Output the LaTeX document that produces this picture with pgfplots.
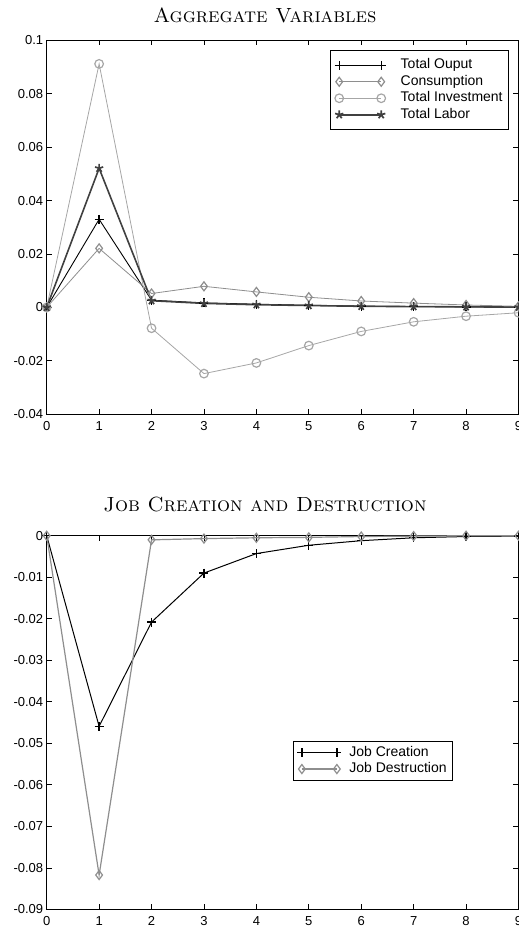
\documentclass[border=0pt]{standalone}
\usepackage{fontspec}
\usepackage{pgfplots}
\pgfplotsset{compat=1.18}
\newfontfamily\arial{Liberation Sans}
\definecolor{cons}{HTML}{8E8E8E}
\definecolor{inv}{HTML}{A6A6A6}
\definecolor{lab}{HTML}{404040}
\pgfplotsset{
  mlab/.style={
    scale only axis, width=471.8pt, height=373.8pt, anchor=south west,
    xmin=0, xmax=9, xtick={0,...,9}, xticklabels={0,1,2,3,4,5,6,7,8,9},
    scaled ticks=false,
    /pgf/number format/assume math mode=true,
    tick align=inside, major tick length=5pt,
    axis line style={line width=0.9pt}, every tick/.style={line width=0.8pt, black},
    tick label style={font=\fontsize{13}{15}\arial},
    xticklabel style={yshift=-3.5pt},
    legend style={draw=black, line width=0.8pt, font=\fontsize{14}{16}\arial,
      cells={anchor=west}, row sep=0pt,
      nodes={inner ysep=2pt, text height=9.8pt, text depth=2.7pt},
      inner xsep=4pt, inner ysep=6.5pt},
  }
}
\begin{document}
\begin{tikzpicture}[x=1pt,y=1pt]
\begin{axis}[mlab, at={(46.7pt,514.8pt)},
  ymin=-0.04, ymax=0.1, ytick={-0.04,-0.02,0,0.02,0.04,0.06,0.08,0.1},
  yticklabels={-0.04,-0.02,0,0.02,0.04,0.06,0.08,0.1},
  legend image code/.code={\draw[#1] plot coordinates {(0pt,0pt) (42pt,0pt)};},
  legend style={at={(0.98,0.974)}, anchor=north east,
    /tikz/every odd column/.append style={column sep=13pt}}]
\addplot[black, line width=0.9pt, mark=+, mark size=4.5pt, mark options={line width=1.3pt}]
 coordinates {(0,0) (1,0.0330) (2,0.0027) (3,0.0017) (4,0.0012) (5,0.0008) (6,0.0005) (7,0.0003) (8,0.0002) (9,0.0001)};
\addlegendentry{Total Ouput}
\addplot[cons, line width=0.8pt, mark=diamond, mark size=4.5pt, mark options={line width=1.2pt}]
 coordinates {(0,0) (1,0.0221) (2,0.0052) (3,0.0079) (4,0.0058) (5,0.0038) (6,0.0024) (7,0.0016) (8,0.0009) (9,0.0004)};
\addlegendentry{Consumption}
\addplot[inv, line width=0.8pt, mark=o, mark size=4.3pt, mark options={line width=1.2pt}]
 coordinates {(0,0) (1,0.0912) (2,-0.0078) (3,-0.0248) (4,-0.0208) (5,-0.0143) (6,-0.0090) (7,-0.0054) (8,-0.0033) (9,-0.0020)};
\addlegendentry{Total Investment}
\addplot[lab, line width=1.6pt, mark=star, mark size=4.3pt, mark options={line width=1.7pt}]
 coordinates {(0,0) (1,0.0521) (2,0.0025) (3,0.0015) (4,0.0010) (5,0.0007) (6,0.0004) (7,0.0003) (8,0.0002) (9,0.0001)};
\addlegendentry{Total Labor}
\end{axis}
\begin{axis}[mlab, at={(46.7pt,19.5pt)},
  ymin=-0.09, ymax=0, ytick={-0.09,-0.08,-0.07,-0.06,-0.05,-0.04,-0.03,-0.02,-0.01,0},
  yticklabels={-0.09,-0.08,-0.07,-0.06,-0.05,-0.04,-0.03,-0.02,-0.01,0},
  legend image code/.code={\draw[#1] plot coordinates {(0pt,0pt) (35pt,0pt)};},
  legend style={at={(0.522,0.451)}, anchor=north west, inner ysep=3pt,
    /tikz/every odd column/.append style={column sep=6pt}}]
\addplot[black, line width=1pt, mark=+, mark size=4.5pt, mark options={line width=1.3pt}]
 coordinates {(0,0) (1,-0.0459) (2,-0.0208) (3,-0.0090) (4,-0.0043) (5,-0.0023) (6,-0.0012) (7,-0.0005) (8,-0.0002) (9,-0.0001)};
\addlegendentry{Job Creation}
\addplot[cons, line width=1.2pt, mark=diamond, mark size=4.5pt, mark options={line width=1.2pt}]
 coordinates {(0,0) (1,-0.0817) (2,-0.0010) (3,-0.0007) (4,-0.0005) (5,-0.0004) (6,-0.0002) (7,-0.0001) (8,0) (9,0)};
\addlegendentry{Job Destruction}
\end{axis}
\node[font=\fontsize{20.5}{24}\selectfont] at (265pt,913.3pt) {\textsc{Aggregate Variables}};
\node[font=\fontsize{20.5}{24}\selectfont] at (265pt,424pt) {\textsc{Job Creation and Destruction}};
\pgfresetboundingbox
\path[use as bounding box] (0,0) rectangle (519pt,929pt);
\end{tikzpicture}
\end{document}
